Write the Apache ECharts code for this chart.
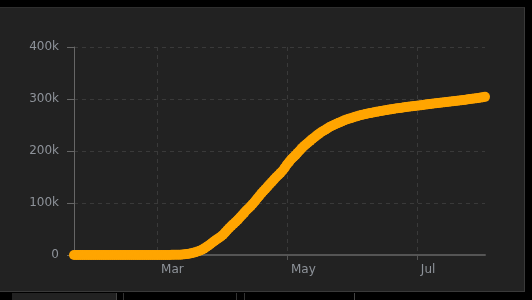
<!DOCTYPE html>
<html>
<head>
<meta charset="utf-8">
<script src="https://cdn.jsdelivr.net/npm/echarts@6/dist/echarts.min.js"></script>
<style>
  html, body { margin: 0; padding: 0; background: #000; width: 532px; height: 300px; overflow: hidden; }
  #panel { position: absolute; left: 0; top: 7px; width: 525px; height: 285px; background: #222; border-top: 1px solid #2e2e2e; border-right: 1px solid #3a3a3a; border-bottom: 1px solid #3a3a3a; box-sizing: border-box; }
  .tab { position: absolute; top: 293px; height: 7px; }
  #chart { position: absolute; left: 0; top: 0; width: 532px; height: 300px; }
</style>
</head>
<body>
<div id="panel"></div>
<div class="tab" style="left:12px;width:104px;background:#222;"></div>
<div class="tab" style="left:116px;width:1px;background:#444;"></div>
<div class="tab" style="left:123px;width:1px;background:#333;"></div>
<div class="tab" style="left:236px;width:1px;background:#333;"></div>
<div class="tab" style="left:244px;width:1px;background:#333;"></div>
<div class="tab" style="left:354px;width:1px;background:#444;"></div>
<div id="chart"></div>
<script>
// Daily cumulative values, 2020-01-22 .. 2020-08-02
const startDate = '2020-01-22';
const janValues = [0,0,0,0,0,0,0,0,0,2];
const febValues = [2,2,2,2,2,2,3,3,3,8,8,8,9,9,9,9,9,9,9,9,9,9,9,13,13,13,15,20,23];
const marValues = [36,40,51,86,116,164,207,274,322,384,459,600,900,1300,1800,2400,3200,4200,5400,6800,8300,10000,12300,15000,17800,20800,23900,27000,30000,32800,35500];
const aprValues = [39000,43500,48000,52500,56500,60000,63800,68000,72500,77000,81500,86000,90000,94000,98500,103500,108500,113500,118500,123000,127500,132000,136500,141000,145500,150000,154000,158000,162500,168000];
const mayValues = [174000,179000,184000,188000,192000,196500,201000,205500,209500,213000,216500,220000,223500,226500,230000,233000,236000,238500,241000,243500,246000,248000,250000,252000,253800,255500,257200,259000,260500,262000,263200];
const junValues = [264500,265800,267000,268200,269300,270300,271200,272000,272900,273700,274500,275300,276100,276800,277500,278200,278900,279600,280300,281000,281600,282200,282700,283300,283900,284500,285100,285700,286200,286700];
const julValues = [287200,287700,288200,288700,289200,289700,290200,290700,291200,291800,292300,292800,293300,293700,294200,294700,295200,295700,296200,296700,297200,297700,298200,298700,299300,299900,300400,300900,301500,302100,302700];
const augValues = [303400,304100];

const tickDates = ['2020-03-01','2020-05-01','2020-07-01'];
const tickLabels = ['Mar','May','Jul'];
const yTicks = [0,100000,200000,300000,400000];
const yTickLabels = ['0','100k','200k','300k','400k'];

const values = [].concat(janValues, febValues, marValues, aprValues, mayValues, junValues, julValues, augValues);
const dates = [];
{
  const d = new Date(startDate + 'T00:00:00Z');
  for (let i = 0; i < values.length; i++) {
    dates.push(d.toISOString().slice(0,10));
    d.setUTCDate(d.getUTCDate() + 1);
  }
}
const isTick = (idx) => tickDates.indexOf(dates[idx]) >= 0;

const chart = echarts.init(document.getElementById('chart'), null, {renderer: 'canvas'});
chart.setOption({
  backgroundColor: 'transparent',
  animation: false,
  grid: { left: 74, right: 47, top: 47, bottom: 45, containLabel: false },
  xAxis: {
    type: 'category',
    data: dates,
    boundaryGap: false,
    axisLine: { show: true, lineStyle: { color: '#555', width: 2 } },
    axisTick: { show: true, alignWithLabel: true, interval: (i) => isTick(i), length: 5, lineStyle: { color: '#555' } },
    axisLabel: {
      interval: (i) => isTick(i),
      formatter: (v) => { const k = tickDates.indexOf(v); return k >= 0 ? tickLabels[k] : ''; },
      color: '#8e939a', fontSize: 12, fontFamily: 'DejaVu Sans, sans-serif',
      align: 'left', padding: [0,0,0,4], margin: 9
    },
    splitLine: { show: true, interval: (i) => isTick(i), lineStyle: { color: '#3a3a3a', type: [4,4] } }
  },
  yAxis: {
    type: 'value',
    min: 0, max: 400000, interval: 100000,
    axisLine: { show: true, lineStyle: { color: '#666' } },
    axisTick: { show: true, length: 7, lineStyle: { color: '#666' } },
    axisLabel: {
      formatter: (v) => { const k = yTicks.indexOf(v); return k >= 0 ? yTickLabels[k] : ''; },
      color: '#8e939a', fontSize: 12, fontFamily: 'DejaVu Sans, sans-serif', margin: 15
    },
    splitLine: { show: true, lineStyle: { color: '#3a3a3a', type: [4,4] } }
  },
  series: [{
    type: 'line',
    data: values,
    symbol: 'circle',
    symbolSize: 10,
    showSymbol: true,
    showAllSymbol: true,
    itemStyle: { color: '#ffa500' },
    lineStyle: { color: '#ffa500', width: 9 },
    z: 5
  }]
});
</script>
</body>
</html>
